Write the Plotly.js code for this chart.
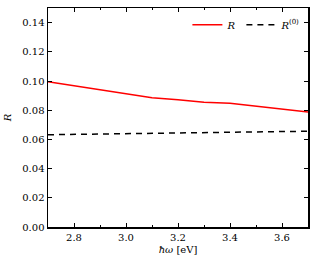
<!DOCTYPE html>
<html><head><meta charset="utf-8">
<script src="https://cdn.plot.ly/plotly-3.0.1.min.js"></script>
<style>html,body{margin:0;padding:0;background:#fff;}#chart{width:311px;height:261px;}</style>
</head><body><div id="chart"></div>
<script>
const omega = [2.7, 2.8, 2.9, 3.0, 3.1, 3.2, 3.3, 3.4, 3.5, 3.6, 3.7];
const R = [0.0995, 0.0968, 0.0943, 0.0917, 0.0886, 0.0871, 0.0855, 0.0847, 0.0828, 0.0808, 0.0787];
const R0 = [0.0632, 0.0634, 0.0637, 0.0639, 0.0641, 0.0644, 0.0646, 0.0649, 0.0651, 0.0654, 0.0656];
const xTicks = [2.8, 3.0, 3.2, 3.4, 3.6];
const xTickText = ['2.8', '3.0', '3.2', '3.4', '3.6'];
const yTicks = [0.00, 0.02, 0.04, 0.06, 0.08, 0.10, 0.12, 0.14];
const yTickText = ['0.00', '0.02', '0.04', '0.06', '0.08', '0.10', '0.12', '0.14'];

const font = {family: 'DejaVu Serif, Liberation Serif, serif', size: 10, color: '#000'};
const traces = [
  {x: omega, y: R, mode: 'lines', name: '<i>R</i>', line: {color: '#ff0000', width: 1.5}},
  {x: omega, y: R0, mode: 'lines', name: '<i>R</i><sup>(0)</sup>', line: {color: '#000', width: 1.5, dash: '6px,5px'}}
];
const axisCommon = {
  showline: true, linecolor: '#000', linewidth: 1.5, mirror: 'ticks',
  ticks: 'inside', ticklen: 4, tickwidth: 1, tickcolor: '#000',
  showgrid: false, zeroline: false, tickfont: font
};
const layout = {
  width: 311, height: 261,
  margin: {l: 48, r: 3, t: 8, b: 34},
  paper_bgcolor: '#fff', plot_bgcolor: '#fff',
  font: font,
  showlegend: true,
  legend: {orientation: 'h', x: 0.99, xanchor: 'right', y: 0.99, yanchor: 'top',
           bgcolor: 'rgba(0,0,0,0)', font: {family: font.family, size: 10, color: '#000'}},
  xaxis: Object.assign({}, axisCommon, {
    range: [2.7, 3.7], tickmode: 'array', tickvals: xTicks, ticktext: xTickText,
    minor: {dtick: 0.1, tick0: 2.7, ticks: 'inside', ticklen: 2, tickcolor: '#000'},
    title: {text: '<i>ħω</i> [eV]', font: {family: font.family, size: 10, color: '#000'}, standoff: 4}
  }),
  yaxis: Object.assign({}, axisCommon, {
    range: [0, 0.15], tickmode: 'array', tickvals: yTicks, ticktext: yTickText,
    title: {text: '<i>R</i>', font: {family: font.family, size: 10, color: '#000'}, standoff: 8}
  })
};
Plotly.newPlot('chart', traces, layout, {displayModeBar: false, staticPlot: true});
</script></body></html>
